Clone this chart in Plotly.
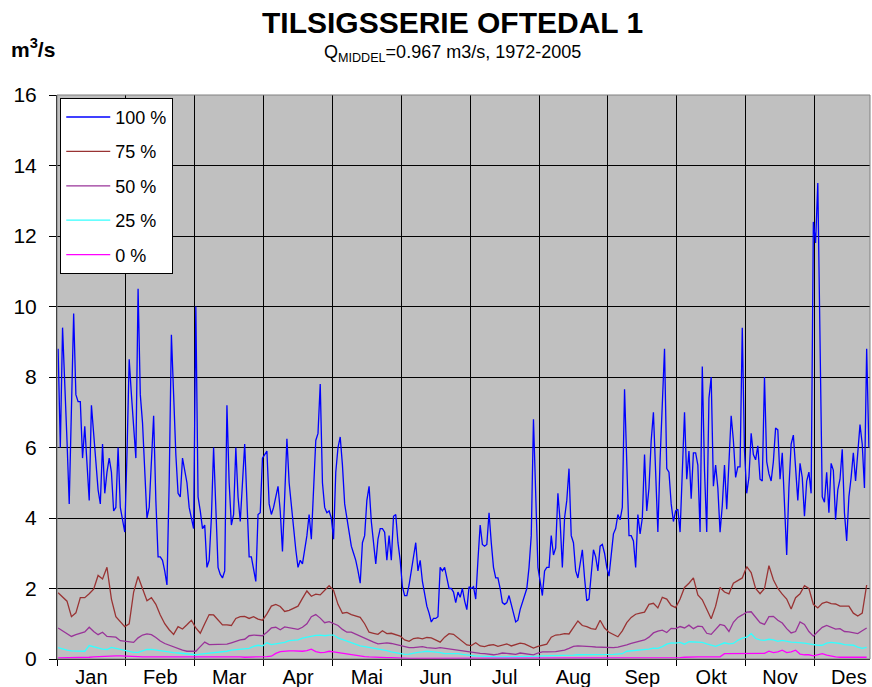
import plotly.graph_objects as go

# ---------------- data ----------------
months = ["Jan", "Feb", "Mar", "Apr", "Mai", "Jun", "Jul", "Aug", "Sep", "Okt", "Nov", "Des"]

# 100 % series, one value per day (day index 0..365)
q100 = [
    8.8, 6.0, 9.4, 8.0, 6.2, 4.4, 7.3, 9.8, 7.5, 7.3,
    7.3, 5.7, 6.6, 5.5, 4.5, 7.2, 6.5, 5.6, 4.8, 4.4,
    6.1, 4.7, 5.3, 5.7, 5.3, 4.2, 4.3, 6.0, 4.3, 3.9,
    3.6, 5.8, 8.5, 7.5, 6.5, 5.7, 10.5, 7.5, 6.7, 5.5,
    4.0, 4.3, 5.6, 6.9, 4.5, 2.9, 2.9, 2.8, 2.5, 2.1,
    5.0, 9.2, 7.5, 5.8, 4.7, 4.6, 5.7, 5.3, 5.0, 4.3,
    4.0, 3.7, 10.0, 4.6, 4.2, 3.7, 3.8, 2.6, 2.8, 4.0,
    6.0, 4.3, 2.6, 2.4, 2.3, 2.5, 7.2, 5.0, 3.8, 4.1,
    6.0, 4.6, 3.9, 5.0, 6.1, 4.5, 2.9, 2.9, 2.6, 2.2,
    4.1, 4.15, 5.7, 5.8, 5.9, 4.4, 4.1, 4.3, 4.6, 4.9,
    4.2, 3.05, 4.6, 6.25, 5.0, 4.3, 3.6, 3.1, 2.6, 2.8,
    2.7, 3.1, 3.5, 4.1, 3.4, 4.8, 6.2, 6.4, 7.8, 5.0,
    4.3, 4.15, 4.2, 4.0, 3.4, 5.3, 6.0, 6.3, 5.5, 4.4,
    4.0, 3.6, 3.2, 3.0, 2.8, 2.5, 2.15, 3.3, 3.5, 4.5,
    4.9, 3.9, 3.3, 2.7, 3.4, 3.7, 3.7, 3.6, 2.8, 3.5,
    2.8, 4.05, 4.1, 3.3, 2.8, 2.05, 1.8, 1.8, 2.1, 2.5,
    3.0, 3.3, 2.5, 2.8, 2.2, 1.8, 1.5, 1.3, 1.05, 1.15,
    1.15, 1.2, 2.6, 2.5, 2.6, 2.3, 2.0, 2.0, 1.9, 1.6,
    1.9, 1.75, 2.0, 1.65, 1.4, 2.05, 2.0, 2.05, 1.7, 2.8,
    3.8, 3.25, 3.2, 3.25, 4.15, 3.3, 2.6, 2.3, 2.3, 2.0,
    1.6, 1.55, 1.6, 1.8, 1.5, 1.3, 1.05, 1.1, 1.4, 1.6,
    1.8, 2.0, 2.6, 3.5, 6.8, 4.5, 2.6, 2.2, 1.8, 2.5,
    2.6, 2.6, 3.5, 2.95, 3.15, 4.7, 3.9, 2.6, 4.0, 4.5,
    5.4, 3.5, 3.3, 2.5, 2.3, 2.7, 3.1, 2.3, 1.65, 1.7,
    2.5, 3.1, 2.9, 2.5, 3.2, 3.25, 3.0, 2.6, 2.35, 2.95,
    3.55, 3.7, 4.1, 3.95, 4.3, 7.65, 5.65, 3.5, 3.5, 3.35,
    2.6, 4.1, 3.55, 4.0, 5.8, 4.2, 4.85, 6.2, 7.0, 5.15,
    3.6, 5.65, 7.5, 8.8, 5.4, 5.3, 4.4, 3.9, 4.2, 4.25,
    3.6, 5.55, 7.0, 5.1, 5.9, 4.55, 5.85, 5.85, 5.5, 3.6,
    8.3, 5.35, 3.6, 7.4, 8.0, 4.9, 5.5, 4.85, 3.6, 4.35,
    5.5, 4.25, 5.45, 6.9, 6.2, 5.15, 5.45, 5.45, 9.4, 5.9,
    4.7, 5.15, 6.4, 5.8, 5.65, 6.05, 5.1, 5.05, 8.0, 5.6,
    5.25, 5.05, 5.6, 6.55, 6.5, 5.1, 5.85, 4.2, 2.95, 4.85,
    6.1, 6.35, 5.5, 4.5, 5.55, 5.15, 4.05, 5.05, 5.3, 4.7,
    12.4, 11.8, 13.5, 9.45, 4.6, 4.45, 5.3, 4.15, 5.55, 5.35,
    3.95, 4.8, 5.1, 5.95, 4.15, 3.35, 4.6, 5.15, 5.85, 5.05,
    6.0, 6.65, 6.1, 4.85, 8.8, 6.0,
]
days100 = list(range(len(q100)))

# 75 %, 50 %, 25 %, 0 % series, one value every second day (day 0, 2, ..., 364)
q75 = [
    1.88, 1.76, 1.64, 1.2, 1.31, 1.74, 1.74, 1.85, 1.98, 2.37,
    2.27, 2.6, 1.7, 1.2, 1.07, 0.92, 1.0, 1.9, 2.34, 2.0,
    1.65, 1.74, 1.55, 1.25, 1.0, 0.83, 0.7, 0.92, 0.85, 0.97,
    1.1, 0.88, 0.73, 1.0, 1.26, 1.25, 1.1, 0.97, 0.97, 0.95,
    1.15, 1.2, 1.21, 1.15, 1.2, 1.13, 1.1, 1.28, 1.5, 1.55,
    1.49, 1.35, 1.38, 1.45, 1.5, 1.72, 1.93, 1.78, 1.84, 1.82,
    1.95, 2.08, 1.95, 1.55, 1.3, 1.32, 1.26, 1.22, 1.18, 1.0,
    0.76, 0.73, 0.7, 0.8, 0.72, 0.73, 0.68, 0.65, 0.54, 0.5,
    0.58, 0.6, 0.57, 0.61, 0.6, 0.53, 0.48, 0.62, 0.72, 0.7,
    0.6, 0.48, 0.4, 0.38, 0.46, 0.37, 0.35, 0.39, 0.41, 0.36,
    0.39, 0.43, 0.37, 0.42, 0.45, 0.43, 0.37, 0.31, 0.36, 0.4,
    0.42, 0.62, 0.68, 0.69, 0.72, 0.71, 0.9, 1.08, 0.95, 0.92,
    0.86, 0.84, 1.1, 0.88, 0.76, 0.7, 0.63, 0.8, 1.03, 1.18,
    1.27, 1.3, 1.33, 1.55, 1.58, 1.45, 1.75, 1.7, 1.52, 1.46,
    1.7, 2.03, 2.15, 2.3, 1.82, 1.68, 1.4, 1.14, 1.5, 2.03,
    1.9, 1.85, 2.15, 2.22, 2.3, 2.62, 2.45, 2.0, 1.85, 2.0,
    2.65, 2.25, 2.0, 1.84, 1.7, 1.42, 1.74, 1.85, 2.08, 2.0,
    1.55, 1.45, 1.58, 1.62, 1.57, 1.56, 1.5, 1.5, 1.5, 1.3,
    1.22, 1.3, 2.1,
]
q50 = [
    0.88, 0.8, 0.7, 0.64, 0.69, 0.74, 0.77, 0.9, 0.78, 0.69,
    0.76, 0.64, 0.64, 0.62, 0.52, 0.51, 0.48, 0.47, 0.6, 0.68,
    0.71, 0.69, 0.61, 0.51, 0.44, 0.39, 0.34, 0.3, 0.25, 0.22,
    0.21, 0.22, 0.35, 0.48, 0.41, 0.41, 0.41, 0.41, 0.42, 0.46,
    0.51, 0.54, 0.56, 0.66, 0.68, 0.66, 0.66, 0.76, 0.88, 0.9,
    0.83, 0.91, 0.89, 0.86, 0.84, 0.9, 1.0, 1.2, 1.26, 1.16,
    1.03, 1.06, 1.0, 0.95, 0.84, 0.76, 0.76, 0.7, 0.64, 0.58,
    0.53, 0.48, 0.43, 0.44, 0.46, 0.44, 0.41, 0.36, 0.33, 0.32,
    0.32, 0.34, 0.35, 0.32, 0.31, 0.3, 0.32, 0.3, 0.28, 0.28,
    0.25, 0.23, 0.2, 0.18, 0.17, 0.16, 0.15, 0.14, 0.12, 0.14,
    0.17, 0.16, 0.14, 0.13, 0.17, 0.16, 0.14, 0.12, 0.17, 0.2,
    0.2, 0.2, 0.21, 0.23, 0.25, 0.3, 0.36, 0.37, 0.37, 0.36,
    0.35, 0.34, 0.33, 0.32, 0.32, 0.32, 0.34, 0.36, 0.4, 0.44,
    0.48, 0.51, 0.54, 0.62, 0.74, 0.79, 0.82, 0.75, 0.87, 0.86,
    0.92, 0.88, 0.96, 0.86, 0.93, 0.92, 0.73, 0.7, 0.83, 0.98,
    0.95, 0.78, 1.04, 1.18, 1.25, 1.33, 1.34, 1.18, 1.03, 0.98,
    1.2, 1.21, 1.1, 1.02, 0.86, 0.74, 0.78, 1.05, 0.98, 0.78,
    0.65, 0.78, 0.9, 0.95, 0.9, 0.85, 0.86, 0.78, 0.77, 0.74,
    0.72, 0.8, 0.88,
]
q25 = [
    0.32, 0.28, 0.25, 0.23, 0.23, 0.22, 0.22, 0.38, 0.34, 0.3,
    0.28, 0.27, 0.33, 0.3, 0.27, 0.24, 0.22, 0.19, 0.19, 0.23,
    0.27, 0.27, 0.25, 0.22, 0.2, 0.19, 0.18, 0.17, 0.16, 0.15,
    0.13, 0.12, 0.14, 0.15, 0.16, 0.17, 0.19, 0.2, 0.22, 0.25,
    0.26, 0.28, 0.29, 0.3, 0.36, 0.39, 0.37, 0.46, 0.41, 0.43,
    0.45, 0.47, 0.52, 0.54, 0.54, 0.59, 0.62, 0.66, 0.67, 0.68,
    0.66, 0.68, 0.68, 0.6, 0.55, 0.5, 0.46, 0.4, 0.37, 0.35,
    0.33, 0.3, 0.28, 0.26, 0.24, 0.2, 0.18, 0.14, 0.13, 0.14,
    0.17, 0.19, 0.2, 0.22, 0.21, 0.2, 0.18, 0.15, 0.15, 0.16,
    0.15, 0.13, 0.11, 0.1, 0.09, 0.08, 0.07, 0.07, 0.06, 0.06,
    0.06, 0.06, 0.06, 0.07, 0.07, 0.07, 0.08, 0.08, 0.08, 0.09,
    0.09, 0.09, 0.1, 0.1, 0.11, 0.11, 0.11, 0.12, 0.12, 0.11,
    0.11, 0.11, 0.12, 0.12, 0.12, 0.13, 0.14, 0.15, 0.22, 0.23,
    0.25, 0.26, 0.27, 0.28, 0.31, 0.3, 0.35, 0.42, 0.46, 0.45,
    0.47, 0.42, 0.49, 0.49, 0.47, 0.47, 0.43, 0.39, 0.36, 0.41,
    0.46, 0.43, 0.44, 0.53, 0.59, 0.62, 0.72, 0.58, 0.54, 0.53,
    0.56, 0.54, 0.5, 0.53, 0.5, 0.48, 0.47, 0.47, 0.45, 0.43,
    0.4, 0.39, 0.39, 0.45, 0.47, 0.46, 0.44, 0.41, 0.39, 0.39,
    0.34, 0.3, 0.33,
]
q0 = [
    0.03, 0.03, 0.04, 0.04, 0.05, 0.05, 0.05, 0.05, 0.06, 0.07,
    0.08, 0.09, 0.09, 0.09, 0.09, 0.09, 0.08, 0.08, 0.07, 0.06,
    0.06, 0.06, 0.07, 0.08, 0.08, 0.08, 0.07, 0.07, 0.06, 0.06,
    0.06, 0.06, 0.06, 0.07, 0.07, 0.08, 0.08, 0.08, 0.07, 0.07,
    0.06, 0.06, 0.05, 0.05, 0.06, 0.06, 0.06, 0.07, 0.08, 0.16,
    0.21, 0.23, 0.23, 0.23, 0.22, 0.22, 0.24, 0.28, 0.21, 0.18,
    0.19, 0.22, 0.2, 0.18, 0.15, 0.13, 0.12, 0.1, 0.08, 0.07,
    0.06, 0.05, 0.05, 0.04, 0.04, 0.04, 0.03, 0.03, 0.02, 0.02,
    0.02, 0.02, 0.02, 0.02, 0.02, 0.02, 0.02, 0.02, 0.02, 0.02,
    0.02, 0.02, 0.02, 0.02, 0.02, 0.02, 0.02, 0.02, 0.02, 0.02,
    0.02, 0.02, 0.02, 0.02, 0.02, 0.02, 0.02, 0.02, 0.02, 0.02,
    0.02, 0.02, 0.02, 0.02, 0.02, 0.02, 0.02, 0.02, 0.02, 0.02,
    0.02, 0.02, 0.02, 0.02, 0.02, 0.02, 0.02, 0.02, 0.03, 0.03,
    0.03, 0.03, 0.03, 0.03, 0.03, 0.03, 0.03, 0.03, 0.03, 0.03,
    0.04, 0.05, 0.06, 0.06, 0.06, 0.06, 0.06, 0.06, 0.06, 0.06,
    0.15, 0.15, 0.15, 0.15, 0.15, 0.15, 0.15, 0.15, 0.15, 0.16,
    0.22, 0.18, 0.2, 0.25, 0.18, 0.2, 0.25, 0.14, 0.12, 0.12,
    0.09, 0.12, 0.15, 0.11, 0.08, 0.06, 0.05, 0.05, 0.05, 0.05,
    0.05, 0.05, 0.05,
]
days_lo = list(range(0, 2 * len(q75), 2))

yticks = [0, 2, 4, 6, 8, 10, 12, 14, 16]
month_len = 31          # category interval between month tick marks
n_days = len(q100)

# ---------------- figure ----------------
FONT = "Liberation Sans, Arial, sans-serif"
series = [
    ("100 %", days100, q100, "#0000FF"),
    ("75 %", days_lo, q75, "#993333"),
    ("50 %", days_lo, q50, "#993399"),
    ("25 %", days_lo, q25, "#33FFFF"),
    ("0 %", days_lo, q0, "#FF00FF"),
]

fig = go.Figure()
for name, xs, ys, col in series:
    fig.add_trace(go.Scatter(
        x=xs, y=ys, mode="lines", name=name, legendgroup=name,
        line=dict(color=col, width=1.3),
    ))

label_pos = [month_len * k + (month_len - 1) / 2 for k in range(len(months))]

fig.update_layout(
    width=872, height=687,
    margin=dict(l=57, r=2, t=95, b=28),
    paper_bgcolor="white",
    plot_bgcolor="#C0C0C0",
    font=dict(family=FONT, color="black"),
    showlegend=True,
    legend=dict(
        x=0.004, y=0.995, xanchor="left", yanchor="top",
        bgcolor="white", bordercolor="black", borderwidth=1,
        font=dict(family=FONT, size=18, color="black"),
        tracegroupgap=8,
        itemwidth=44,
    ),
    xaxis=dict(
        range=[-0.5, n_days - 0.5],
        tickmode="array", tickvals=label_pos, ticktext=months,
        ticks="", showgrid=False, zeroline=False, automargin=False,
        tickfont=dict(family=FONT, size=20, color="black"),
        showline=True, linecolor="black", linewidth=1,
        minor=dict(
            tick0=-0.5, dtick=month_len, showgrid=True,
            gridcolor="black", gridwidth=1,
            ticks="outside", ticklen=6, tickcolor="black", tickwidth=1,
        ),
    ),
    yaxis=dict(
        range=[0, 16], tickmode="array", tickvals=yticks,
        showgrid=True, gridcolor="black", gridwidth=1,
        zeroline=False, automargin=False,
        ticks="outside", ticklen=7, tickcolor="black",
        ticklabelstandoff=8,
        tickfont=dict(family=FONT, size=21, color="black"),
        showline=True, linecolor="black", linewidth=1,
    ),
    shapes=[dict(
        type="rect", xref="paper", yref="paper", x0=0, x1=1, y0=0, y1=1,
        line=dict(color="#808080", width=1), fillcolor="rgba(0,0,0,0)",
        layer="above",
    )],
    annotations=[
        dict(text="<b>TILSIGSSERIE OFTEDAL 1</b>", xref="paper", yref="paper",
             x=0.486, y=1.128, xanchor="center", yanchor="middle",
             showarrow=False, font=dict(family=FONT, size=30, color="black")),
        dict(text="Q<sub>MIDDEL</sub>=0.967 m3/s, 1972-2005", xref="paper", yref="paper",
             x=0.487, y=1.074, xanchor="center", yanchor="middle",
             showarrow=False, font=dict(family=FONT, size=18, color="black")),
        dict(text="<b>m<sup>3</sup>/s</b>", xref="paper", yref="paper",
             x=-0.059, y=1.083, xanchor="left", yanchor="middle",
             showarrow=False, font=dict(family=FONT, size=21, color="black")),
    ],
)

fig.write_html("out.html", config={"displayModeBar": False},
               post_script="document.body.style.margin='0';")
